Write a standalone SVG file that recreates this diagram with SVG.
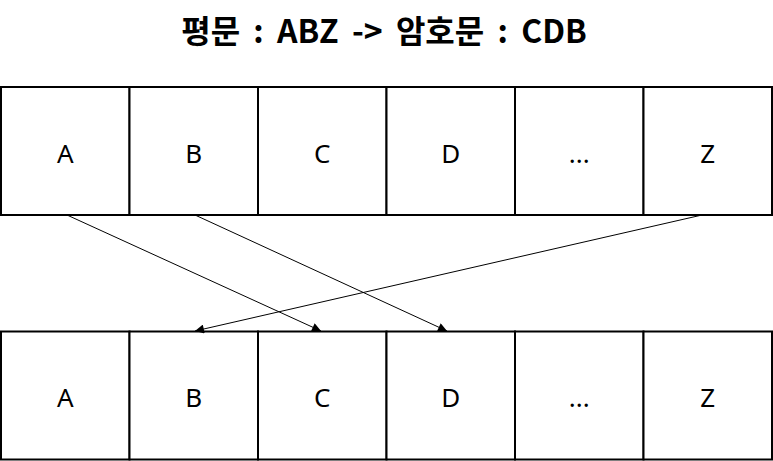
<svg xmlns="http://www.w3.org/2000/svg" width="773" height="461" viewBox="0 0 773 461">
<style>
.cell{fill:#fff;stroke:#000;stroke-width:2}
.lbl{font-family:"Noto Sans","Noto Sans CJK KR",sans-serif;font-size:26px;fill:#000;text-anchor:middle}
.title{font-family:"Noto Sans CJK KR","Noto Sans",sans-serif;font-size:32px;font-weight:bold;fill:#000;text-anchor:middle;word-spacing:6px}
.conn{stroke:#000;stroke-width:1;fill:none;marker-end:url(#ah)}
</style>
<defs>
<marker id="ah" viewBox="0 0 10 10" refX="10" refY="5" markerWidth="10" markerHeight="9" markerUnits="userSpaceOnUse" orient="auto">
<path d="M0,0 L10,5 L0,10 z" fill="#000"/>
</marker>
</defs>
<rect width="773" height="461" fill="#fff"/>
<text class="title" x="384" y="43">평문 : ABZ -&gt; 암호문 : CDB</text>
<g id="top-row">
<g id="top-A"><rect class="cell" x="1" y="87" width="128.5" height="128"/><text class="lbl" x="65.25" y="162.5">A</text></g>
<g id="top-B"><rect class="cell" x="129.5" y="87" width="128.5" height="128"/><text class="lbl" x="193.75" y="162.5">B</text></g>
<g id="top-C"><rect class="cell" x="258" y="87" width="128.5" height="128"/><text class="lbl" x="322.25" y="162.5">C</text></g>
<g id="top-D"><rect class="cell" x="386.5" y="87" width="128.5" height="128"/><text class="lbl" x="450.75" y="162.5">D</text></g>
<g id="top-dots"><rect class="cell" x="515" y="87" width="128.5" height="128"/><text class="lbl" x="579.25" y="162.5">...</text></g>
<g id="top-Z"><rect class="cell" x="643.5" y="87" width="128.5" height="128"/><text class="lbl" x="707.75" y="162.5">Z</text></g>
</g>
<g id="bottom-row">
<g id="bot-A"><rect class="cell" x="1" y="331.5" width="128.5" height="128"/><text class="lbl" x="65.25" y="406.5">A</text></g>
<g id="bot-B"><rect class="cell" x="129.5" y="331.5" width="128.5" height="128"/><text class="lbl" x="193.75" y="406.5">B</text></g>
<g id="bot-C"><rect class="cell" x="258" y="331.5" width="128.5" height="128"/><text class="lbl" x="322.25" y="406.5">C</text></g>
<g id="bot-D"><rect class="cell" x="386.5" y="331.5" width="128.5" height="128"/><text class="lbl" x="450.75" y="406.5">D</text></g>
<g id="bot-dots"><rect class="cell" x="515" y="331.5" width="128.5" height="128"/><text class="lbl" x="579.25" y="406.5">...</text></g>
<g id="bot-Z"><rect class="cell" x="643.5" y="331.5" width="128.5" height="128"/><text class="lbl" x="707.75" y="406.5">Z</text></g>
</g>
<g id="connectors">
<line class="conn" x1="67" y1="215" x2="321" y2="331"/>
<line class="conn" x1="195" y1="215" x2="447" y2="331"/>
<line class="conn" x1="702" y1="215" x2="195" y2="331"/>
</g>
</svg>
